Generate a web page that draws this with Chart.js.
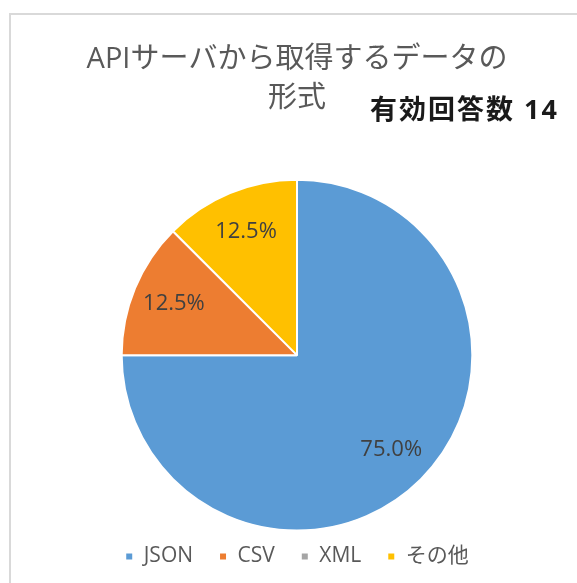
<!DOCTYPE html>
<html>
<head>
<meta charset="utf-8">
<script src="https://cdn.jsdelivr.net/npm/chart.js@4"></script>
<style>
  html, body { margin: 0; padding: 0; background: #fff; }
  #box {
    position: absolute; left: 9px; top: 13px;
    width: 566px; height: 568px;
    border-left: 2px solid #d9d9d9; border-top: 2px solid #d9d9d9;
  }
</style>
</head>
<body>
<div id="box"><canvas id="pie-chart" width="566" height="568"></canvas></div>
<script>
const categories = ['JSON', 'CSV', 'XML', 'その他'];
const shares = [75.0, 12.5, 0, 12.5];
const sliceColors = ['#5B9BD5', '#ED7D31', '#A5A5A5', '#FFC000'];
const titleLines = ['APIサーバから取得するデータの', '形式'];
const answerNote = '有効回答数 14';

const FONT = "'Open Sans', 'Noto Sans CJK JP', sans-serif";

// percentage labels inside slices
const sliceLabels = {
    id: 'sliceLabels',
    afterDatasetsDraw(chart) {
        const ctx = chart.ctx;
        const meta = chart.getDatasetMeta(0);
        ctx.save();
        ctx.font = '22px ' + FONT;
        ctx.fillStyle = '#404040';
        ctx.textAlign = 'center';
        ctx.textBaseline = 'middle';
        meta.data.forEach((arc, i) => {
            const v = shares[i];
            if (!v) return;
            const p = arc.getProps(['x', 'y', 'startAngle', 'endAngle', 'outerRadius'], true);
            const mid = (p.startAngle + p.endAngle) / 2;
            const r = p.outerRadius * 0.76;
            ctx.fillText(v.toFixed(1) + '%', p.x + Math.cos(mid) * r, p.y + Math.sin(mid) * r);
        });
        ctx.restore();
    }
};

// the bold "answers" note at the top right
const noteText = {
    id: 'noteText',
    afterDraw(chart) {
        const ctx = chart.ctx;
        ctx.save();
        ctx.font = 'bold 27px ' + FONT;
        ctx.letterSpacing = '2px';
        ctx.fillStyle = '#1a1a1a';
        ctx.textAlign = 'right';
        ctx.textBaseline = 'middle';
        ctx.fillText(answerNote, chart.width - 18, 96);
        ctx.restore();
    }
};

new Chart(document.getElementById('pie-chart'), {
    type: 'pie',
    data: {
        labels: categories,
        datasets: [{
            data: shares,
            backgroundColor: sliceColors,
            borderColor: '#ffffff',
            borderWidth: 2,
            radius: '107%'
        }]
    },
    options: {
        responsive: false,
        animation: false,
        layout: {
            padding: { top: 0, bottom: 6, left: 6, right: 0 }
        },
        plugins: {
            title: {
                display: true,
                text: titleLines,
                color: '#595959',
                font: { size: 29, family: FONT, weight: 'normal', lineHeight: 1.35 },
                padding: { top: 25, bottom: 72 }
            },
            legend: {
                position: 'bottom',
                labels: {
                    boxWidth: 8,
                    boxHeight: 8,
                    padding: 26,
                    color: '#595959',
                    font: { size: 21, family: FONT }
                }
            },
            tooltip: { enabled: false }
        }
    },
    plugins: [sliceLabels, noteText]
});
</script>
</body>
</html>
